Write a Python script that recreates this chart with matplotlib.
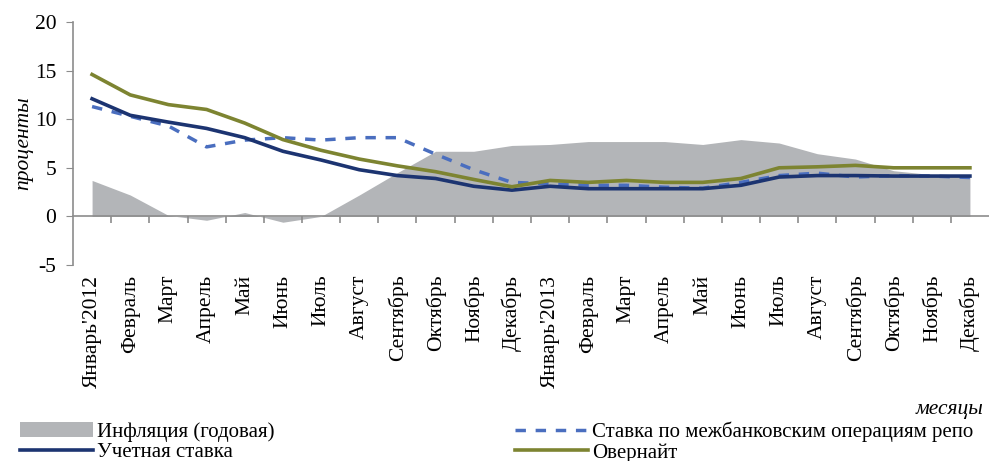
import numpy as np
import matplotlib
matplotlib.use("Agg")
import matplotlib.pyplot as plt
from matplotlib.patches import Patch
from matplotlib.lines import Line2D

plt.rcParams['font.family'] = ['Liberation Serif', 'DejaVu Serif']
plt.rcParams['axes.unicode_minus'] = False

months = ["Январь'2012", "Февраль", "Март", "Апрель", "Май", "Июнь", "Июль",
          "Август", "Сентябрь", "Октябрь", "Ноябрь", "Декабрь",
          "Январь'2013", "Февраль", "Март", "Апрель", "Май", "Июнь", "Июль",
          "Август", "Сентябрь", "Октябрь", "Ноябрь", "Декабрь"]

inflation = [3.7, 2.2, 0.1, -0.4, 0.4, -0.6, 0.0, 2.2, 4.5, 6.7, 6.7, 7.3,
             7.4, 7.7, 7.7, 7.7, 7.4, 7.9, 7.55, 6.45, 5.9, 4.7, 4.3, 4.0]
repo = [11.3, 10.3, 9.3, 7.15, 7.85, 8.1, 7.85, 8.1, 8.1, 6.4, 4.8, 3.5,
        3.35, 3.2, 3.2, 3.0, 2.9, 3.5, 4.2, 4.45, 4.05, 4.2, 4.15, 4.0]
discount = [12.1, 10.4, 9.7, 9.05, 8.1, 6.7, 5.8, 4.8, 4.2, 3.9, 3.1, 2.7,
            3.1, 2.85, 2.85, 2.85, 2.85, 3.2, 4.05, 4.2, 4.2, 4.15, 4.15, 4.15]
overnight = [14.6, 12.5, 11.5, 11.0, 9.6, 7.9, 6.8, 5.9, 5.2, 4.6, 3.8, 3.05,
             3.7, 3.5, 3.7, 3.5, 3.5, 3.9, 5.0, 5.1, 5.25, 5.0, 5.0, 5.0]

c_infl = "#b3b5b8"
c_repo = "#4a6ebf"
c_disc = "#1c3471"
c_over = "#7d8431"
c_axis = "#8c8c8c"

x = np.arange(len(months))

fig = plt.figure(figsize=(9.89, 4.61), dpi=100)
ax = fig.add_axes([73 / 989, 1 - 265 / 461, 1 - 73 / 989, (265 - 22) / 461])

ax.fill_between(x, inflation, 0, color=c_infl, linewidth=0)
ax.plot(x, repo, color=c_repo, lw=2.5, dashes=(3, 2.8))
ax.plot(x, discount, color=c_disc, lw=2.6)
ax.plot(x, overnight, color=c_over, lw=2.6)

ax.set_xlim(-0.5, len(months) - 0.5)
ax.set_ylim(-5, 20)
ax.set_yticks([-5, 0, 5, 10, 15, 20])
ax.tick_params(axis='y', labelsize=15.5, length=5, color=c_axis, pad=7)

for s in ['top', 'right']:
    ax.spines[s].set_visible(False)
ax.spines['left'].set_color(c_axis)
ax.spines['bottom'].set_color(c_axis)
ax.spines['bottom'].set_position(('data', 0))
ax.spines['left'].set_linewidth(1.2)
ax.spines['bottom'].set_linewidth(1.2)

# labels at month centres, tick marks on month boundaries
ax.set_xticks(x)
ax.set_xticklabels(months, rotation=90, fontsize=15.5)
ax.tick_params(axis='x', length=0, pad=42)
ax.set_xticks(np.arange(0.5, len(months) - 0.5, 1), minor=True)
ax.tick_params(axis='x', which='minor', length=5, color=c_axis, width=1.2)

ax.set_ylabel("проценты", fontsize=15.5, style='italic', labelpad=1)
fig.text(983 / 989, 1 - 409 / 461, "месяцы", fontsize=15.5, style='italic',
         ha='right', va='center')

h_infl = Patch(facecolor=c_infl, edgecolor='none')
h_repo = Line2D([], [], color=c_repo, lw=2.5, dashes=(3, 2.8))
h_disc = Line2D([], [], color=c_disc, lw=2.6)
h_over = Line2D([], [], color=c_over, lw=2.6)

leg_kw = dict(frameon=False, fontsize=15, borderpad=0, borderaxespad=0,
              handlelength=3.5, handletextpad=0.2, labelspacing=0.05,
              loc='center left')
fig.legend([h_infl, h_disc], ["Инфляция (годовая)", "Учетная ставка"],
           bbox_to_anchor=(20 / 989, 1 - 442 / 461), **leg_kw)
fig.legend([h_repo, h_over], ["Ставка по межбанковским операциям репо", "Овернайт"],
           bbox_to_anchor=(515 / 989, 1 - 442 / 461), **leg_kw)

fig.savefig("out.png", dpi=100)
